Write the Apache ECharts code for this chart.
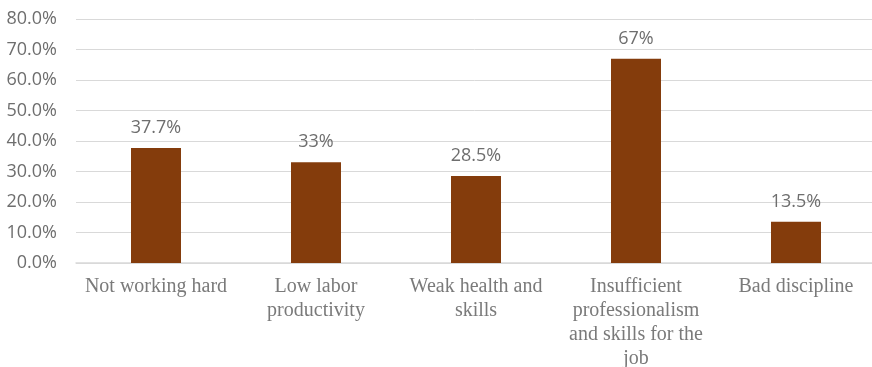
<!DOCTYPE html>
<html>
<head>
<meta charset="utf-8">
<script src="https://cdn.jsdelivr.net/npm/echarts@6/dist/echarts.min.js"></script>
<style>
  html, body { margin: 0; padding: 0; background: #fff; }
  #chart { width: 872px; height: 367px; }
</style>
</head>
<body>
<div id="chart"></div>
<script>
// Reasons reported, share of respondents (%)
const categories = [
  'Not working hard',
  'Low labor\nproductivity',
  'Weak health and\nskills',
  'Insufficient\nprofessionalism\nand skills for the\njob',
  'Bad discipline'
];
const shares = [37.7, 33, 28.5, 67, 13.5];
const yMin = 0;
const yMax = 80;
const yStep = 10;

const chart = echarts.init(document.getElementById('chart'), null, { renderer: 'canvas' });
chart.setOption({
  animation: false,
  backgroundColor: '#ffffff',
  grid: { left: 76, right: -4, top: 19, bottom: 104, containLabel: false, outerBoundsMode: 'none' },
  xAxis: {
    type: 'category',
    data: categories,
    axisLine: { show: true, lineStyle: { color: '#d9d9d9', width: 1.5 } },
    axisTick: { show: false },
    axisLabel: {
      interval: 0,
      color: '#7a7a7a',
      fontFamily: 'Liberation Serif',
      fontSize: 20,
      lineHeight: 24,
      margin: 12
    }
  },
  yAxis: {
    type: 'value',
    min: yMin,
    max: yMax,
    interval: yStep,
    axisLine: { show: false },
    axisTick: { show: false },
    splitLine: { lineStyle: { color: '#d9d9d9', width: 1 } },
    axisLabel: {
      color: '#6e6e6e',
      fontFamily: 'Open Sans',
      fontSize: 18,
      margin: 19,
      formatter: v => v.toFixed(1) + '%'
    }
  },
  series: [{
    type: 'bar',
    data: shares,
    barWidth: 50,
    itemStyle: { color: '#843c0c' },
    label: {
      show: true,
      position: 'top',
      distance: 11,
      color: '#6e6e6e',
      fontFamily: 'Open Sans',
      fontSize: 18,
      formatter: p => p.value + '%'
    }
  }]
});
</script>
</body>
</html>
